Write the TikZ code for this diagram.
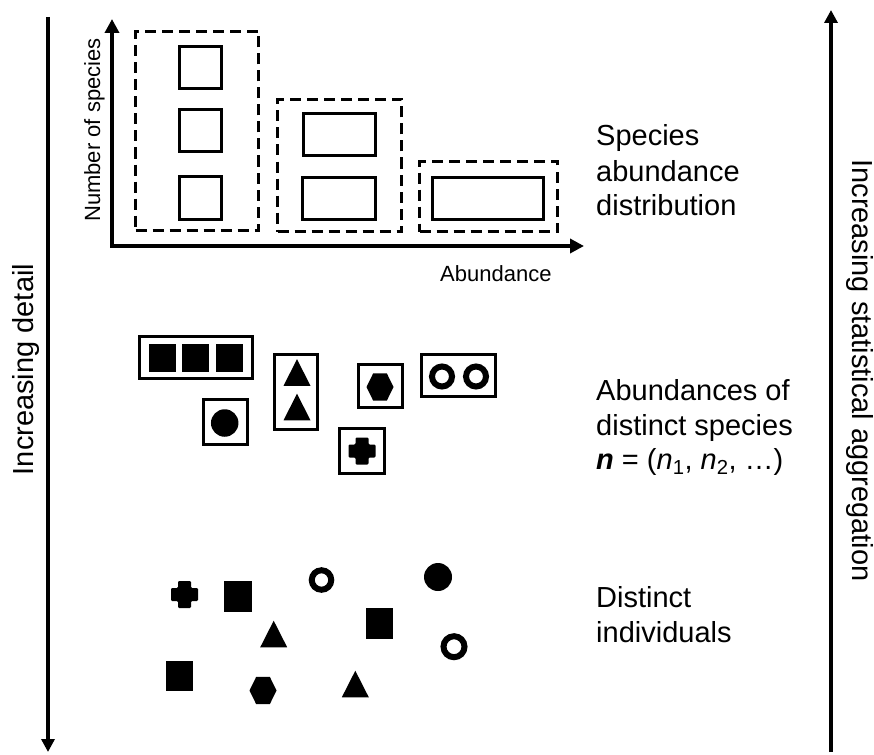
\documentclass[tikz,border=0pt]{standalone}
\usepackage{fontspec}
\setmainfont{Liberation Sans}
\usetikzlibrary{arrows.meta}
\tikzset{
  bigarrow/.style={line width=4pt,-{Triangle[width=13pt,length=13pt]}},
  axisline/.style={line width=3.5pt,{Triangle[width=14pt,length=14pt]}-{Triangle[width=14pt,length=14pt]}},
  dashbox/.style={draw,line width=2.8pt,dash pattern=on 11pt off 6pt,inner sep=0pt},
  barbox/.style={draw,line width=3pt,inner sep=0pt},
  spbox/.style={draw,line width=3pt,inner sep=0pt},
  fillsq/.style={fill=black,inner sep=0pt,minimum width=27.5pt,minimum height=28pt},
  dot/.style={circle,fill=black,inner sep=0pt,minimum size=28pt},
  ringshape/.style={circle,draw=black,line width=6pt,inner sep=0pt,minimum size=20pt},
  biglabel/.style={font=\fontsize{29}{35}\selectfont,inner sep=0pt},
  smalllabel/.style={font=\fontsize{22}{26}\selectfont,inner sep=0pt},
  tripic/.pic={\fill (-13.5,13.3) -- (0,-13.3) -- (13.5,13.3) -- cycle;},
  hexpic/.pic={\fill (-13.5,0) -- (-6.8,-13.7) -- (6.8,-13.7) -- (13.5,0) -- (6.8,13.7) -- (-6.8,13.7) -- cycle;},
  crosspic/.pic={\fill[rounded corners=1.2pt] (-6.5,-13.5) -- (6.5,-13.5) -- (6.5,-6.5) -- (13.5,-6.5) -- (13.5,6.5) -- (6.5,6.5) -- (6.5,13.5) -- (-6.5,13.5) -- (-6.5,6.5) -- (-13.5,6.5) -- (-13.5,-6.5) -- (-6.5,-6.5) -- cycle;}
}
\begin{document}
\begin{tikzpicture}[x=1pt,y=-1pt]
\useasboundingbox (0,0) rectangle (874,754);

% side arrows
\coordinate (ltop) at (48,17);
\coordinate (lbot) at (48,752);
\coordinate (rbot) at (831,752);
\coordinate (rtop) at (831,10);
\draw[bigarrow] (ltop) -- (lbot);
\draw[bigarrow] (rbot) -- (rtop);
\node[biglabel,rotate=90,anchor=base] (ldetail) at (33,369.5) {Increasing detail};
\node[biglabel,rotate=-90,anchor=base] (ragg) at (852,370.5) {Increasing statistical aggregation};

% axes
\coordinate (ytip) at (112,19);
\coordinate (orig) at (112,246);
\coordinate (xtip) at (584,246);
\draw[axisline] (ytip) -- (orig) -- (xtip);
\node[smalllabel,rotate=90,anchor=base] (ylab) at (100,130) {Number of species};
\node[smalllabel,anchor=base west] (xlab) at (440,281) {Abundance};

% dashed groups
\node[dashbox,minimum width=123pt,minimum height=199pt] (g1) at (197,131) {};
\node[dashbox,minimum width=124pt,minimum height=132pt] (g2) at (339.5,165.5) {};
\node[dashbox,minimum width=138pt,minimum height=70pt] (g3) at (488.5,196.5) {};
\node[barbox,minimum width=42pt,minimum height=42pt] (b11) at (200,67.5) {};
\node[barbox,minimum width=42pt,minimum height=42pt] (b12) at (200.5,131) {};
\node[barbox,minimum width=42pt,minimum height=43pt] (b13) at (200.5,197.5) {};
\node[barbox,minimum width=72.5pt,minimum height=42pt] (b21) at (339.5,134.5) {};
\node[barbox,minimum width=73.5pt,minimum height=42pt] (b22) at (339,198.5) {};
\node[barbox,minimum width=111pt,minimum height=42pt] (b31) at (488,198.5) {};

% species boxes
\node[spbox,minimum width=113pt,minimum height=42pt] (bxa) at (196,357.5) {};
\node[fillsq,minimum width=27pt] (sa1) at (162.5,358) {};
\node[fillsq,minimum width=27pt] (sa2) at (195.5,358) {};
\node[fillsq,minimum width=27pt] (sa3) at (229.5,358) {};
\node[spbox,minimum width=44pt,minimum height=45pt] (bxb) at (225.5,422) {};
\node[dot,minimum size=27.5pt] (db) at (224.7,423) {};
\node[spbox,minimum width=43pt,minimum height=75pt] (bxc) at (296,392) {};
\pic (tc1) at (297,372.5) {tripic};
\pic (tc2) at (297,407) {tripic};
\node[spbox,minimum width=44pt,minimum height=43pt] (bxd) at (380.5,386) {};
\pic (hd) at (380,387) {hexpic};
\node[spbox,minimum width=74pt,minimum height=42pt] (bxe) at (458.5,375.5) {};
\node[ringshape] (re1) at (442,376.5) {};
\node[ringshape] (re2) at (476,376.5) {};
\node[spbox,minimum width=45pt,minimum height=45pt] (bxf) at (362,451) {};
\pic (cf) at (362,451) {crosspic};

% individuals
\pic (ci) at (184.5,594.5) {crosspic};
\node[fillsq,minimum height=30.7pt] (si1) at (238,596.3) {};
\node[ringshape,minimum size=19.5pt] (ri1) at (321.5,580) {};
\node[dot] (di1) at (438,577) {};
\pic (ti1) at (273.7,634) {tripic};
\node[fillsq,minimum height=31pt] (si2) at (379.5,623.8) {};
\node[ringshape,minimum size=21pt] (ri2) at (454,646.7) {};
\node[fillsq,minimum height=30.3pt] (si3) at (179.5,675.8) {};
\pic (hi1) at (263,690.5) {hexpic};
\pic (ti2) at (355.3,684) {tripic};

% right labels
\node[biglabel,anchor=base west] (sad1) at (596,146) {Species};
\node[biglabel,anchor=base west] (sad2) at (596,181) {abundance};
\node[biglabel,anchor=base west] (sad3) at (596,215) {distribution};
\node[biglabel,anchor=base west] (ab1) at (596,400) {Abundances of};
\node[biglabel,anchor=base west] (ab2) at (596,435) {distinct species};
\node[biglabel,anchor=base west] (ab3) at (596,469) {{\bfseries\itshape n} = (\textit{n}\textsubscript{1}, \textit{n}\textsubscript{2}, …)};
\node[biglabel,anchor=base west] (di1l) at (596,607) {Distinct};
\node[biglabel,anchor=base west] (di2l) at (596,642) {individuals};
\end{tikzpicture}
\end{document}
